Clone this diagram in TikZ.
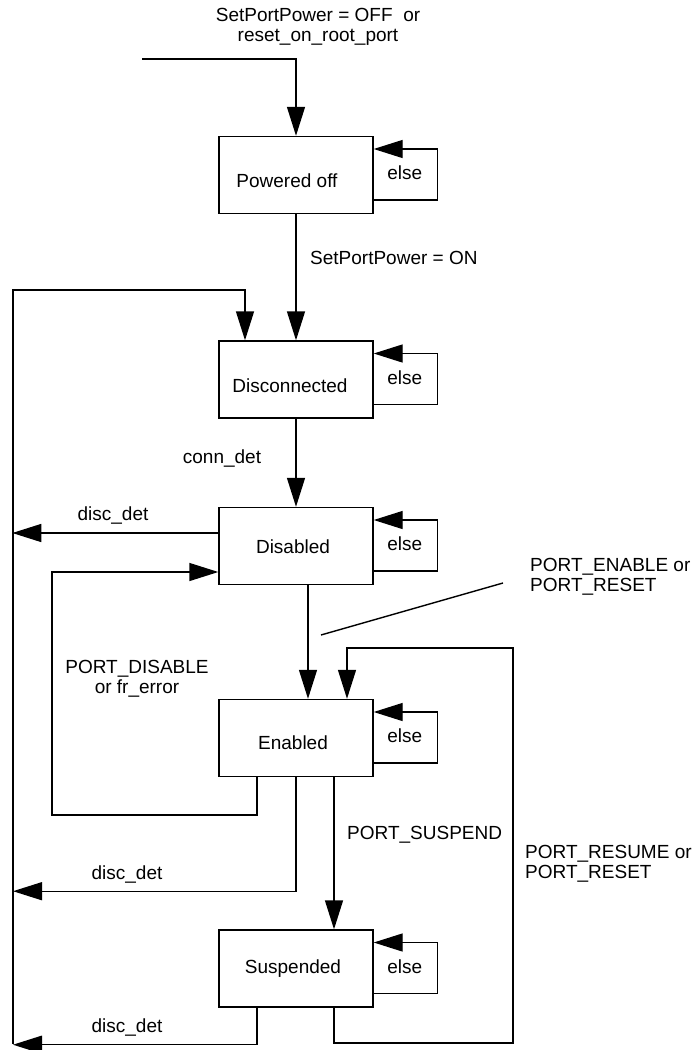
\documentclass[tikz,border=0pt]{standalone}
\usepackage{fontspec}
\setmainfont{Liberation Sans}
\usetikzlibrary{arrows.meta}
\begin{document}
\begin{tikzpicture}[x=1pt,y=-1pt,
  every node/.style={font=\fontsize{19}{20}\selectfont},
  box/.style={draw, line width=1.4pt, minimum width=154pt, minimum height=77pt, inner sep=0pt},
  lbl/.style={inner sep=0pt, text height=13.6pt, text depth=0pt},
  mlbl/.style={inner sep=0pt},
  wire/.style={line width=1.4pt},
  arr/.style={wire, -{Triangle[length=29pt,width=18pt]}}]
\useasboundingbox (0,0) rectangle (695,1050);

% states
\node[box] (po) at (296,175) {};
\node[box] (dc) at (296,379.5) {};
\node[box] (ds) at (296,546) {};
\node[box] (en) at (296,738) {};
\node[box] (su) at (296,968.5) {};
\node[lbl] (po-t) at (287,181) {Powered off};
\node[lbl] (dc-t) at (290,386) {Disconnected};
\node[lbl] (ds-t) at (293,547) {Disabled};
\node[lbl] (en-t) at (293,743) {Enabled};
\node[lbl] (su-t) at (293,967) {Suspended};

% self loops
\foreach \n in {po,dc,ds,en,su}{
  \draw[arr] ([yshift=-25pt]\n.east) -- ++(64,0) -- ++(0,-51) -- ([yshift=26pt]\n.east);
  \node[lbl] (\n-else) at ([xshift=31pt,yshift=2pt]\n.east) {else};
}

% entry
\coordinate (in) at (142,59);
\draw[arr] (in) -| (po.north);
\node[mlbl, align=center, anchor=north] (in-t) at (318,8) {SetPortPower = OFF\ \ or\\reset\_on\_root\_port};

% powered off -> disconnected
\draw[arr] (po.south) -- (dc.north);
\node[lbl, anchor=west] (on-t) at (310,258) {SetPortPower = ON};

% disconnected -> disabled
\draw[arr] (dc.south) -- (ds.north);
\node[lbl] (cd-t) at (222,457) {conn\_det};

% big left bus back to disconnected
\coordinate (lb) at (13,1044);
\coordinate (lt) at (13,290);
\draw[arr] (lb) -- (lt) -| ([xshift=-51pt]dc.north);

% disc_det arrows
\draw[arr] ([yshift=13pt]ds.west) -- ++(-206,0);
\node[lbl] (dd1) at (113,514) {disc\_det};
\draw[arr] (en.south) -- ++(0,114) -- ++(-283,0);
\node[lbl] (dd2) at (127,873) {disc\_det};
\draw[arr] ([xshift=-39pt]su.south) -- ++(0,37) -- ++(-244,0);
\node[lbl] (dd3) at (127,1026) {disc\_det};

% enabled -> disabled
\coordinate (pd) at (52,815);
\draw[arr] ([xshift=-39pt]en.south) |- (pd) |- ([yshift=-26pt]ds.west);
\node[mlbl, align=center, anchor=north] (pd-t) at (137,660) {PORT\_DISABLE\\or fr\_error};

% disabled -> enabled
\draw[arr] ([xshift=12pt]ds.south) -- ([xshift=12pt]en.north);
\coordinate (d1) at (321,635);
\coordinate (d2) at (503,583);
\draw[wire] (d1) -- (d2);
\node[mlbl, anchor=north west, align=left] (pe-t) at (530,558) {PORT\_ENABLE or\\PORT\_RESET};

% enabled -> suspended
\draw[arr] ([xshift=38pt]en.south) -- ([xshift=38pt]su.north);
\node[lbl, anchor=west] (ps-t) at (347,833) {PORT\_SUSPEND};

% suspended -> enabled
\coordinate (rr) at (513,1043);
\coordinate (rt) at (513,648);
\draw[arr] ([xshift=38pt]su.south) |- (rr) -- (rt) -| ([xshift=51pt]en.north);
\node[mlbl, anchor=north west, align=left] (pr-t) at (525,845) {PORT\_RESUME or\\PORT\_RESET};
\end{tikzpicture}
\end{document}
